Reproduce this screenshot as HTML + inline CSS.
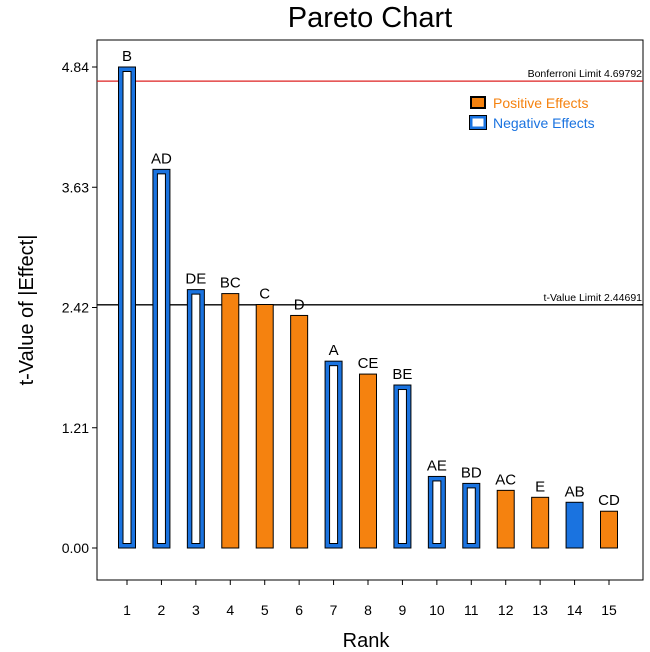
<!DOCTYPE html>
<html><head><meta charset="utf-8"><style>
body{margin:0;background:#fff;}
svg{display:block;font-family:"Liberation Sans",Arial,sans-serif;}
</style></head><body>
<svg id="chart" width="650" height="652" viewBox="0 0 650 652">
<text x="370" y="27" text-anchor="middle" font-size="29">Pareto Chart</text>
<rect x="97" y="40" width="546" height="540" fill="none" stroke="#000" stroke-width="1"/>
<g id="yticks"></g><g id="xticks"></g><g id="lines"></g><g id="bars"></g>
<text x="366" y="647" text-anchor="middle" font-size="20">Rank</text>
<text transform="translate(33,310) rotate(-90)" text-anchor="middle" font-size="20">t-Value of |Effect|</text>
<g>
<rect x="471" y="97" width="14" height="11" fill="#f5820f" stroke="#000" stroke-width="2"/>
<text x="493" y="108" font-size="14" fill="#f5820f">Positive Effects</text>
<rect x="471" y="117" width="14" height="11" fill="#fff" stroke="#1a73e0" stroke-width="3"/>
<rect x="469.5" y="115.5" width="17" height="14" fill="none" stroke="#000" stroke-width="1"/>
<text x="493" y="128" font-size="14" fill="#1a73e0">Negative Effects</text>
</g>
</svg>
<script>
const labels=["B","AD","DE","BC","C","D","A","CE","BE","AE","BD","AC","E","AB","CD"];
const values=[4.84,3.81,2.60,2.56,2.45,2.34,1.88,1.75,1.64,0.72,0.65,0.58,0.51,0.46,0.37];
const signs=["neg","neg","neg","pos","pos","pos","neg","pos","neg","neg","neg","pos","pos","negsolid","pos"];
const yTicks=[0,1.21,2.42,3.63,4.84];
const limits=[["Bonferroni Limit 4.69792",4.69792,"#d22"],["t-Value Limit 2.44691",2.44691,"#000"]];
const NS="http://www.w3.org/2000/svg";
const y=v=>548-v*(481/4.84);
const x=r=>127+(r-1)*(482/14);
function mk(t,a,p){const e=document.createElementNS(NS,t);for(const k in a)e.setAttribute(k,a[k]);p.appendChild(e);return e;}
const yt=document.getElementById('yticks');
yTicks.forEach(v=>{const l=mk('line',{x1:92,x2:97,y1:y(v),y2:y(v),stroke:'#000'},yt);


const t=mk('text',{x:89,y:y(v)+5,'text-anchor':'end','font-size':14},yt);t.textContent=v.toFixed(2);

});
const xt=document.getElementById('xticks');
labels.forEach((_,i)=>{const r=i+1;const l=mk('line',{x1:x(r),x2:x(r),y1:580,y2:585,stroke:'#000'},xt);


const t=mk('text',{x:x(r),y:615,'text-anchor':'middle','font-size':14},xt);t.textContent=r;

});
const lg=document.getElementById('lines');
limits.forEach(([n,v,c])=>{const l=mk('line',{x1:97,x2:643,y1:y(v),y2:y(v),stroke:c,'stroke-width':1.3},lg);


const t=mk('text',{x:642,y:y(v)-4,'text-anchor':'end','font-size':10.5},lg);t.textContent=n;

});
const bg=document.getElementById('bars');
values.forEach((v,i)=>{const cx=x(i+1),top=y(v),h=548-top,w=17;
const g=mk('g',{},bg);


const s=signs[i];
if(s==='pos'){mk('rect',{x:cx-w/2,y:top,width:w,height:h,fill:'#f5820f',stroke:'#000','stroke-width':1},g);}
else if(s==='negsolid'){mk('rect',{x:cx-w/2,y:top,width:w,height:h,fill:'#1a73e0',stroke:'#000','stroke-width':1},g);}
else{mk('rect',{x:cx-w/2,y:top,width:w,height:h,fill:'#1a73e0',stroke:'#000','stroke-width':1},g);
mk('rect',{x:cx-w/2+4.5,y:top+4.5,width:w-9,height:Math.max(h-9,0),fill:'#fff',stroke:'#000','stroke-width':1},g);}
const t=mk('text',{x:cx,y:top-6,'text-anchor':'middle','font-size':15},g);t.textContent=labels[i];

});
</script>
</body></html>
